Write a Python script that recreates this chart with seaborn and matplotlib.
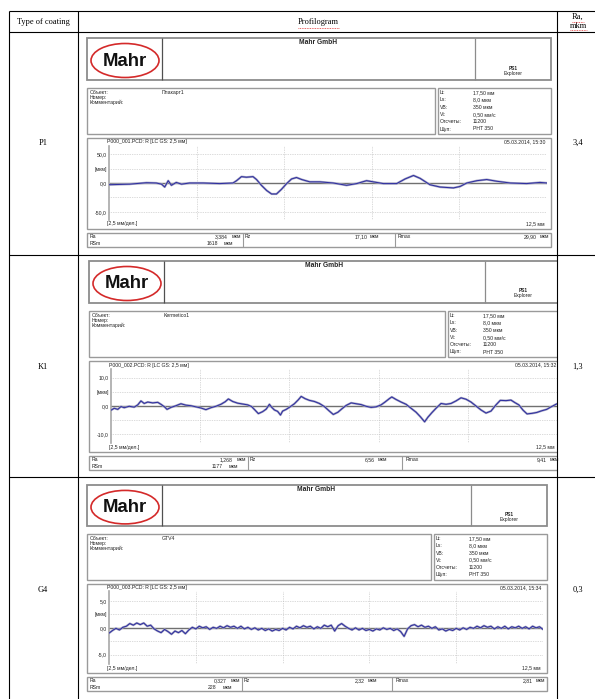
import numpy as np
import pandas as pd
import matplotlib
matplotlib.use("Agg")
import matplotlib.pyplot as plt
from matplotlib.patches import Rectangle, Ellipse
import seaborn as sns

sns.set_theme(style="white")
plt.rcParams['font.family'] = ['Liberation Sans', 'DejaVu Sans']
SANS = ['Liberation Sans', 'DejaVu Sans']
SERIF = ['Liberation Serif', 'DejaVu Serif']

# ---------------- data ----------------
coatings = ["P1", "K1", "G4"]
ra_table = ["3,4", "1,3", "0,3"]
objects = ["Плакарт1", "Kermetico1", "GTV4"]
files = ["P000_001.PCD: R [LC GS: 2,5 мм]", "P000_002.PCD: R [LC GS: 2,5 мм]",
         "P000_003.PCD: R [LC GS: 2,5 мм]"]
dates = ["05.03.2014, 15:30", "05.03.2014, 15:32", "05.03.2014, 15:34"]
ra_vals = ["3,384", "1,268", "0,327"]
rsm_vals = ["1618", "1177", "228"]
rz_vals = ["17,10", "6,56", "2,32"]
rmax_vals = ["29,90", "9,41", "2,81"]
param_labels = ["Lt:", "Ls:", "VB:", "Vt:", "Отсчеты:", "Щуп:"]
param_values = ["17,50 мм", "8,0 мкм", "350 мкм", "0,50 мм/с", "11200", "PHT 350"]
y_ticks = [[-50, 0, 25, 50], [-10, 0, 5, 10], [-5, 0, 2.5, 5]]
y_tick_labels = [["-50,0", "0,0", "[мкм]", "50,0"], ["-10,0", "0,0", "[мкм]", "10,0"],
                 ["-5,0", "0,0", "[мкм]", "5,0"]]
y_limits = [64, 13.1, 6.8]

p1_x = [0.00, 0.30, 0.59, 0.88, 1.07, 1.35, 1.50, 1.59, 1.69, 1.78, 1.92, 2.07, 2.30, 2.69,
        3.16, 3.54, 3.64, 3.78, 3.92, 4.11, 4.21, 4.35, 4.50, 4.64, 4.78, 4.92, 5.07, 5.21,
        5.35, 5.50, 5.73, 6.02, 6.40, 6.78, 7.07, 7.35, 7.54, 7.83, 8.21, 8.45, 8.69, 8.88,
        9.16, 9.45, 9.83, 10.02, 10.21, 10.50, 10.78, 11.07, 11.45, 11.92, 12.30, 12.50]
p1_y = [-3.0, -2.5, -2.0, -0.5, 0.5, 0.0, -2.0, -7.0, 4.0, -4.0, 1.0, -2.0, 0.0, 0.0,
        -1.0, 0.0, 4.0, 11.0, 10.0, 11.0, 6.0, -4.0, -13.0, -19.0, -19.0, -11.0, -1.0, 7.0,
        9.5, 6.0, 2.0, 2.0, 0.0, -4.0, -1.0, 4.0, 2.0, -1.0, -1.0, 7.0, 13.0, 8.0,
        -3.0, -7.0, -8.5, -6.0, 0.0, 4.0, 6.0, 3.0, 0.0, -1.0, 1.0, 0.0]

k1_x = [0.00, 0.09, 0.19, 0.28, 0.37, 0.51, 0.65, 0.75, 0.84, 0.93, 1.03, 1.17, 1.31, 1.40,
        1.50, 1.57, 1.68, 1.82, 1.96, 2.10, 2.24, 2.38, 2.52, 2.66, 2.80, 2.94, 3.08, 3.20,
        3.29, 3.41, 3.55, 3.69, 3.83, 3.94, 4.04, 4.13, 4.25, 4.35, 4.44, 4.50, 4.58, 4.67,
        4.75, 4.81, 4.91, 5.03, 5.14, 5.25, 5.33, 5.44, 5.56, 5.70, 5.84, 5.98, 6.12, 6.23,
        6.36, 6.47, 6.59, 6.73, 6.87, 7.01, 7.15, 7.29, 7.43, 7.57, 7.68, 7.80, 7.87, 7.99,
        8.13, 8.27, 8.41, 8.55, 8.67, 8.79, 8.88, 8.99, 9.11, 9.25, 9.39, 9.53, 9.67, 9.81,
        9.95, 10.09, 10.23, 10.37, 10.51, 10.65, 10.79, 10.91, 11.07, 11.21, 11.32, 11.43,
        11.55, 11.66, 11.80, 11.93, 12.07, 12.21, 12.32, 12.50]
k1_y = [-1.5, -0.8, -1.2, -0.2, -0.6, -0.1, -0.4, 0.4, 1.8, 0.9, 1.4, 1.1, 1.3, 0.6,
        -0.3, -1.2, -0.5, 0.1, 0.8, 0.3, 0.1, -0.3, -0.7, -1.3, -0.6, -0.1, 0.6, 1.5,
        2.5, 1.6, 1.0, 0.7, 0.4, -0.2, -1.5, -2.7, -2.0, -1.1, 0.6, -0.4, -1.4, -1.9,
        -3.2, -1.8, -1.2, -0.2, 0.8, 2.2, 3.4, 2.6, 2.0, 1.6, 0.9, -0.2, -1.8, -3.0,
        -2.2, -1.0, 0.2, 1.1, 0.8, 0.5, -0.1, -0.5, -0.3, 0.4, 1.4, 2.6, 3.2, 2.3,
        1.4, 0.6, -0.8, -2.2, -3.8, -5.6, -4.0, -2.4, -0.8, 0.9, 0.6, 0.9, 1.8, 2.9,
        2.4, 1.4, 0.0, -1.4, -2.5, -1.8, 0.4, 2.0, 1.9, 2.1, 1.2, 0.4,
        -1.5, -2.8, -2.6, -2.3, -1.7, -1.2, -0.4, 0.8]

g4_x = [i / 10 for i in range(126)]
g4_y = [-1.0, -0.5, -0.1, -0.4, 0.1, 0.3, 0.8, 0.5, 0.9, 0.6, 0.9, 0.3, 0.5, -0.2, -0.6,
        -0.9, -0.3, -0.7, -1.2, -0.6, -0.9, -0.5, -1.1, -0.4, 0.1, -0.2, 0.3, 0.0, 0.2, -0.3,
        0.1, -0.1, 0.3, 0.0, 0.4, 0.1, 0.3, -0.1, 0.3, -0.2, 0.1, -0.3, 0.0, -0.4, -0.1,
        -0.5, -0.2, -0.6, -0.3, -0.5, -0.1, -0.4, 0.1, -0.2, 0.3, 0.0, 0.4, 0.1, 0.3, -0.2,
        0.2, -0.1, 0.5, 0.2, 0.5, -0.6, 0.4, 0.8, 0.3, -0.1, -0.4, 0.0, -0.4, -0.1, -0.5,
        -0.3, -0.6, -0.2, -0.4, 0.0, -0.3, -0.1, -0.5, -0.2, -0.7, -1.6, -0.2, 0.4, 0.6, 0.2,
        0.5, 0.1, 0.3, -0.1, 0.2, -0.4, -0.2, -0.6, -0.3, -0.5, -0.1, -0.4, 0.0, -0.3, 0.1,
        -0.1, 0.3, 0.0, 0.4, 0.1, 0.3, -0.2, 0.2, -0.1, 0.3, -0.2, 0.2, 0.0, 0.3, -0.1,
        0.2, -0.2, 0.3, 0.0, 0.2, -0.3]

profiles = [(p1_x, p1_y), (k1_x, k1_y), (g4_x, g4_y)]

# ---------------- layout (pixels) ----------------
W, H = 595, 699
panels = [dict(left=87, right=551, top=38, sc=1.0),
          dict(left=89, right=561, top=261, sc=1.0),
          dict(left=87, right=547, top=485, sc=0.985)]
row_tops = [32, 255, 477]

fig = plt.figure(figsize=(W / 100, H / 100), dpi=100)
ax0 = fig.add_axes([0, 0, 1, 1])
ax0.set_xlim(0, W)
ax0.set_ylim(H, 0)
ax0.axis('off')

TXT = '#222222'


def rect(x0, y0, x1, y1, ec='#9a9a9a', lw=1.0, z=2):
    ax0.add_patch(Rectangle((x0, y0), x1 - x0, y1 - y0, fill=False, ec=ec, lw=lw, zorder=z))


def T(x, y, s, size=3.7, ha='left', va='center', weight='normal', family=SANS, color=TXT):
    ax0.text(x, y, s, fontsize=size, ha=ha, va=va, fontweight=weight, family=family,
             color=color, zorder=5)


def vline(x, y0, y1, c='#555555', lw=0.8, z=2):
    ax0.plot([x, x], [y0, y1], color=c, lw=lw, zorder=z, solid_capstyle='butt')


for i, p in enumerate(panels):
    L, R, top, sc = p['left'], p['right'], p['top'], p['sc']
    Y = lambda r: top + r * sc
    # Mahr header box
    rect(L, Y(0), R, Y(42), ec='#8c8c8c', lw=1.3)
    vline(L + 75, Y(0), Y(42), c='#505050', lw=0.9)
    vline(R - 76, Y(0), Y(42), c='#8c8c8c', lw=0.9)
    ax0.add_patch(Ellipse((L + 38, Y(22.5)), 68, 34 * sc, fill=False, ec='#d42a2a', lw=1.2, zorder=3))
    T(L + 38, Y(23), "Mahr", size=13.4, ha='center', weight='bold', color='#111111')
    T(((L + 75) + (R - 76)) / 2, Y(4.5), "Mahr GmbH", size=4.8, ha='center', weight='bold')
    T(R - 38, Y(30), "PS1", size=3.4, ha='center', weight='bold')
    T(R - 38, Y(35), "Explorer", size=3.6, ha='center')
    # info boxes
    rect(L, Y(50), R - 116, Y(96))
    rect(R - 113, Y(50), R, Y(96))
    for j, lab in enumerate(["Объект:", "Номер:", "Комментарий:"]):
        T(L + 3, Y(54.3 + 5.2 * j), lab)
    T(L + 75, Y(54.3), objects[i])
    for j, (lab, val) in enumerate(zip(param_labels, param_values)):
        T(R - 111, Y(54.5 + 7.3 * j), lab)
        T(R - 78, Y(54.5 + 7.3 * j), val)
    # plot box
    rect(L, Y(100), R, Y(191))
    T(L + 20, Y(104), files[i])
    T(R - 6 if i != 1 else R - 5, Y(104), dates[i], ha='right')
    T(L + 20, Y(186), "[2,5 мм/дел.]")
    T(R - 6, Y(186), "12,5 мм", ha='right')
    # stats box
    rect(L, Y(195), R, Y(209))
    d1 = L + 0.336 * (R - L)
    d2 = L + 0.664 * (R - L)
    vline(d1, Y(195), Y(209), c='#9a9a9a', lw=0.8)
    vline(d2, Y(195), Y(209), c='#9a9a9a', lw=0.8)
    T(L + 3, Y(198.5), "Ra")
    T(L + 3, Y(205.5), "RSm")
    T(d1 - 15, Y(198.5), ra_vals[i], ha='right')
    T(d1 - 11, Y(198.5), "мкм")
    T(d1 - 25, Y(205.5), rsm_vals[i], ha='right')
    T(d1 - 19, Y(205.5), "мкм")
    T(d1 + 2, Y(198.5), "Rz")
    T(d2 - 28, Y(198.5), rz_vals[i], ha='right')
    T(d2 - 25, Y(198.5), "мкм")
    T(d2 + 3, Y(198.5), "Rmax")
    T(R - 14, Y(198.5), rmax_vals[i], ha='right')
    T(R - 11, Y(198.5), "мкм")

    # profile axes
    al, ar = L + 22, R - 4
    at, ab = Y(108), Y(182)
    pax = fig.add_axes([al / W, 1 - ab / H, (ar - al) / W, (ab - at) / H])
    pax.patch.set_alpha(0)
    lim = y_limits[i]
    pax.set_xlim(0, 12.5)
    pax.set_ylim(-lim, lim)
    for s in ['top', 'right', 'bottom']:
        pax.spines[s].set_visible(False)
    pax.spines['left'].set_color('#a8a8a8')
    pax.spines['left'].set_linewidth(1.2)
    for xv in [2.5, 5.0, 7.5, 10.0]:
        pax.axvline(xv, color='#b8b8b8', lw=0.5, ls=(0, (1, 1.5)), zorder=1)
    for yv in [y_ticks[i][3], y_ticks[i][2], -y_ticks[i][2], -y_ticks[i][3]]:
        pax.axhline(yv, color='#b8b8b8', lw=0.5, ls=(0, (1, 1.5)), zorder=1)
    pax.axhline(0, color='#707070', lw=1.0, zorder=2)
    xs, ys = profiles[i]
    df = pd.DataFrame({'x': xs, 'y': ys})
    sns.lineplot(data=df, x='x', y='y', ax=pax, color='#a9a9c4', lw=1.6, sort=False,
                 estimator=None, legend=False, zorder=3)
    sns.lineplot(data=df, x='x', y='y', ax=pax, color='#2f2fa0', lw=0.75, sort=False,
                 estimator=None, legend=False, zorder=4)
    pax.set_xlabel('')
    pax.set_ylabel('')
    pax.set_xticks([])
    pax.set_yticks(y_ticks[i])
    pax.set_yticklabels(y_tick_labels[i])
    pax.tick_params(axis='y', length=0, pad=1.5, labelsize=3.7, labelcolor=TXT)
    for lbl in pax.get_yticklabels():
        lbl.set_family(SANS)

# cover K1 panel overflow into Ra column
ax0.add_patch(Rectangle((557.5, 256), 10, 220, fc='white', ec='none', zorder=4))

# ---------------- table ----------------
TL = dict(color='black', lw=0.8, zorder=6, solid_capstyle='butt')
for yv in [11, 32, 255, 477]:
    ax0.plot([9, 600], [yv, yv], **TL)
for xv in [9, 78, 557]:
    ax0.plot([xv, xv], [11, 700], **TL)

T(43, 22, "Type of coating", size=6.0, ha='center', family=SERIF, color='black')
T(318, 22, "Profilogram", size=6.0, ha='center', family=SERIF, color='black')
T(578, 17, "Ra,", size=6.0, ha='center', family=SERIF, color='black')
T(578, 26, "mkm", size=6.0, ha='center', family=SERIF, color='black')
ax0.plot([298, 339], [27.5, 27.5], color='#e03030', lw=0.6, ls=(0, (1, 1)), zorder=6)
ax0.plot([572, 584], [21.5, 21.5], color='#e03030', lw=0.6, ls=(0, (1, 1)), zorder=6)
ax0.plot([570, 587], [30.0, 30.0], color='#e03030', lw=0.6, ls=(0, (1, 1)), zorder=6)

for i, c in enumerate(coatings):
    cy = [143, 367, 590][i]
    T(43, cy, c, size=6.0, ha='center', family=SERIF, color='black')
    T(578, cy, ra_table[i], size=6.0, ha='center', family=SERIF, color='black')

fig.savefig("out.png", dpi=100)
